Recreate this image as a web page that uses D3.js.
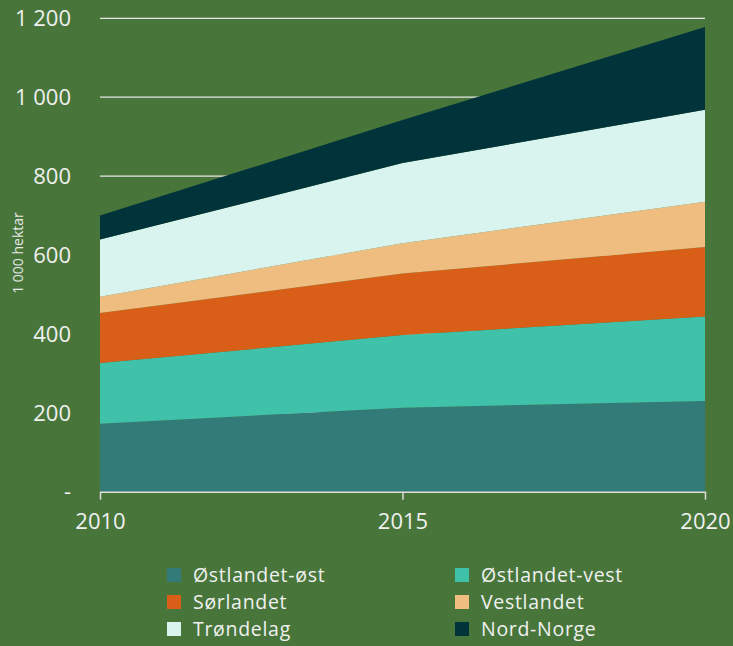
<!DOCTYPE html>
<html>
<head>
<meta charset="utf-8">
<script src="https://cdn.jsdelivr.net/npm/d3@7"></script>
<style>
  html, body { margin: 0; padding: 0; background: #48763a; }
  svg { display: block; }
  text { font-family: "Open Sans", "Noto Sans", sans-serif; }
</style>
</head>
<body>
<svg id="chart" width="733" height="646"></svg>
<script>
const years = [2010, 2015, 2020];
const seriesNames = ["Østlandet-øst", "Østlandet-vest", "Sørlandet", "Vestlandet", "Trøndelag", "Nord-Norge"];
const ostlandetOst  = [172, 213, 230];
const ostlandetVest = [154, 184, 214];
const sorlandet     = [127, 156, 176];
const vestlandet    = [41, 77, 115];
const trondelag     = [145, 203, 233];
const nordNorge     = [61, 109, 210];
const yTicks = [0, 200, 400, 600, 800, 1000, 1200];
const yTickLabels = ["-", "200", "400", "600", "800", "1 000", "1 200"];
const colors = ["#337b79", "#3fc1aa", "#d95f18", "#efbd80", "#d9f4ef", "#00343a"];
const yTitle = "1 000 hektar";

const seriesValues = [ostlandetOst, ostlandetVest, sorlandet, vestlandet, trondelag, nordNorge];
const table = years.map((y, i) => {
  const row = { year: y };
  seriesNames.forEach((n, k) => row[n] = seriesValues[k][i]);
  return row;
});

const svg = d3.select("#chart");
const x = d3.scaleLinear().domain([2010, 2020]).range([100, 705]);
const y = d3.scaleLinear().domain([0, 1200]).range([491.7, 18.3]);

// gridlines
svg.append("g").selectAll("line").data(yTicks.filter(d => d > 0)).join("line")
  .attr("x1", 100).attr("x2", 705)
  .attr("y1", d => y(d)).attr("y2", d => y(d))
  .attr("stroke", "#e6e6e6").attr("stroke-width", 1.2);

const stack = d3.stack().keys(seriesNames)(table);
const area = d3.area()
  .x(d => x(d.data.year))
  .y0(d => y(d[0]))
  .y1(d => y(d[1]));

svg.append("g").selectAll("path").data(stack).join("path")
  .attr("d", area)
  .attr("fill", (d, i) => colors[i]);

// y tick labels
svg.append("g").selectAll("text").data(yTicks).join("text")
  .attr("x", 71).attr("y", d => y(d))
  .attr("dy", "0.35em")
  .attr("text-anchor", "end")
  .attr("font-size", 22)
  .attr("fill", "#f0f0f0")
  .text((d, i) => yTickLabels[i]);

// y title
svg.append("text")
  .attr("transform", `translate(23, ${y(605)}) rotate(-90)`)
  .attr("text-anchor", "middle")
  .attr("font-size", 14)
  .attr("fill", "#e8e8e8")
  .text(yTitle);

// x axis
const xAxis = d3.axisBottom(x).tickValues(years).tickFormat(d3.format("d")).tickSize(8).tickSizeOuter(0).tickPadding(14);
const gx = svg.append("g").attr("transform", `translate(0, ${y(0)})`).call(xAxis);
gx.select(".domain").attr("stroke", "#dddddd").attr("stroke-width", 1.5);
gx.selectAll(".tick line").attr("stroke", "#dddddd").attr("stroke-width", 1.5);
gx.selectAll(".tick text").attr("font-size", 22).attr("fill", "#f0f0f0")
  .attr("font-family", "'Open Sans', 'Noto Sans', sans-serif");

// legend
const legend = svg.append("g");
const cols = [167, 455];
const rows = [575, 602, 629];
seriesNames.forEach((n, i) => {
  const cx = cols[i % 2], cy = rows[Math.floor(i / 2)];
  legend.append("rect").attr("x", cx).attr("y", cy - 7).attr("width", 14).attr("height", 14).attr("fill", colors[i]);
  legend.append("text").attr("x", cx + 26).attr("y", cy).attr("dy", "0.35em")
    .attr("font-size", 19.5).attr("letter-spacing", "0.7px")
    .attr("fill", "#f0f0f0").text(n);
});
</script>
</body>
</html>
